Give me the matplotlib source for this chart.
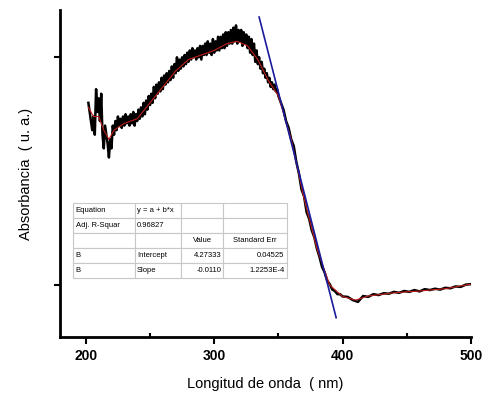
import matplotlib.pyplot as plt
import numpy as np

# measured spectrum (black, noisy), 1 nm steps up to 350 nm
wl = list(range(202, 351)) + list(range(352, 402, 2)) + list(range(404, 504, 4))
absb = [
    0.40, 0.38, 0.36, 0.34, 0.37, 0.33, 0.43, 0.38, 0.41, 0.36,      # 202-211
    0.42, 0.33, 0.30, 0.35, 0.33, 0.31, 0.28, 0.32, 0.30, 0.35,      # 212-221
    0.33, 0.36, 0.34, 0.37, 0.35, 0.365, 0.345, 0.37, 0.35, 0.375,   # 222-231
    0.355, 0.37, 0.35, 0.375, 0.355, 0.38, 0.35, 0.375, 0.36, 0.385, # 232-241
    0.365, 0.39, 0.37, 0.40, 0.375, 0.405, 0.385, 0.415, 0.395, 0.42,  # 242-251
    0.40, 0.435, 0.41, 0.44, 0.42, 0.445, 0.425, 0.455, 0.43, 0.46,  # 252-261
    0.44, 0.465, 0.445, 0.47, 0.45, 0.48, 0.455, 0.485, 0.465, 0.50, # 262-271
    0.47, 0.495, 0.475, 0.50, 0.48, 0.505, 0.485, 0.51, 0.49, 0.515, # 272-281
    0.495, 0.52, 0.50, 0.515, 0.495, 0.52, 0.50, 0.525, 0.495, 0.525,  # 282-291
    0.505, 0.53, 0.505, 0.535, 0.51, 0.53, 0.505, 0.54, 0.51, 0.535, # 292-301
    0.515, 0.545, 0.515, 0.545, 0.52, 0.55, 0.52, 0.555, 0.525, 0.555,  # 302-311
    0.53, 0.56, 0.53, 0.565, 0.535, 0.57, 0.53, 0.56, 0.535, 0.56,   # 312-321
    0.525, 0.555, 0.53, 0.55, 0.52, 0.545, 0.51, 0.54, 0.505, 0.53,  # 322-331
    0.49, 0.515, 0.485, 0.50, 0.475, 0.49, 0.465, 0.475, 0.455, 0.465,  # 332-341
    0.445, 0.455, 0.435, 0.445, 0.43, 0.44, 0.425, 0.43, 0.415,      # 342-350
    0.40, 0.385, 0.36, 0.345, 0.32, 0.305, 0.27, 0.245, 0.21, 0.195, # 352-370
    0.16, 0.145, 0.12, 0.105, 0.08, 0.062, 0.04, 0.028, 0.01, 0.002, # 372-390
    -0.01, -0.013, -0.02, -0.02, -0.025,                             # 392-400
    -0.026, -0.033, -0.037, -0.024, -0.026, -0.02, -0.022, -0.018, -0.019, -0.015,  # 404-440
    -0.017, -0.013, -0.015, -0.011, -0.014, -0.009, -0.011, -0.008, -0.01, -0.006,  # 444-480
    -0.007, -0.003, -0.004, 0.001, 0.002,                            # 484-500
]

# smoothed spectrum (red)
wl_s = [202, 206, 210, 214, 218, 222, 230, 240, 250, 260, 270, 280, 290, 300, 310,
        318, 326, 334, 342, 350, 360, 370, 380, 390, 400, 410, 420, 440, 460, 480, 500]
abs_s = [0.39, 0.37, 0.37, 0.34, 0.32, 0.34, 0.355, 0.365, 0.40, 0.435, 0.47, 0.495, 0.505, 0.515, 0.53,
         0.535, 0.525, 0.495, 0.45, 0.415, 0.32, 0.19, 0.08, 0.0, -0.025, -0.033, -0.024, -0.017, -0.013, -0.008, 0.002]

# linear fit
intercept = 4.27333
slope = -0.0110
fit_x = [335, 395]

table_rows = [
    ["Equation", "y = a + b*x", "", ""],
    ["Adj. R-Squar", "0.96827", "", ""],
    ["", "", "Value", "Standard Err"],
    ["B", "Intercept", "4.27333", "0.04525"],
    ["B", "Slope", "-0.0110", "1.2253E-4"],
]

plt.rcParams['font.family'] = ['Liberation Sans', 'DejaVu Sans']

fig = plt.figure(figsize=(4.85, 3.96), dpi=100)
ax = fig.add_axes([0.124, 0.149, 0.847, 0.826])

ax.plot(wl, absb, color='black', lw=1.8, zorder=2)
ax.plot(wl_s, abs_s, color='#c0201c', lw=0.8, zorder=3)
fx = np.array(fit_x)
ax.plot(fx, intercept + slope * fx, color='#1a1a9c', lw=1.2, zorder=4)

ax.set_xlim(180, 500)
ax.set_ylim(-0.114, 0.604)
ax.set_xticks([200, 300, 400, 500])
ax.set_xticks([250, 350, 450], minor=True)
ax.set_yticks([0, 0.5])
ax.set_yticklabels([])
ax.tick_params(axis='x', which='major', direction='out', length=5, width=1.5, labelsize=10, pad=4)
ax.tick_params(axis='x', which='minor', direction='in', length=3, width=1.5)
ax.tick_params(axis='y', which='major', direction='out', length=4, width=1.5)
for lab in ax.get_xticklabels():
    lab.set_fontweight('bold')

for s in ['top', 'right']:
    ax.spines[s].set_visible(False)
for s in ['left', 'bottom']:
    ax.spines[s].set_linewidth(2)

ax.set_xlabel("Longitud de onda  ( nm)", fontsize=10.5, labelpad=10)
ax.set_ylabel("Absorbancia  ( u. a.)", fontsize=10.5, labelpad=12)

tbl = ax.table(cellText=table_rows, colWidths=[0.29, 0.215, 0.196, 0.299],
               bbox=[0.032, 0.18, 0.52, 0.23], cellLoc='left')
tbl.auto_set_font_size(False)
tbl.set_fontsize(5.5)
for (r, c), cell in tbl.get_celld().items():
    cell.set_edgecolor('#c8c8c8')
    cell.set_linewidth(0.8)
    cell.PAD = 0.04
    if r == 2 and c >= 2:
        cell.set_text_props(ha='center')
    elif r >= 3 and c >= 2:
        cell.set_text_props(ha='right')
        cell._loc = 'right'

fig.savefig("out.png", dpi=100)
